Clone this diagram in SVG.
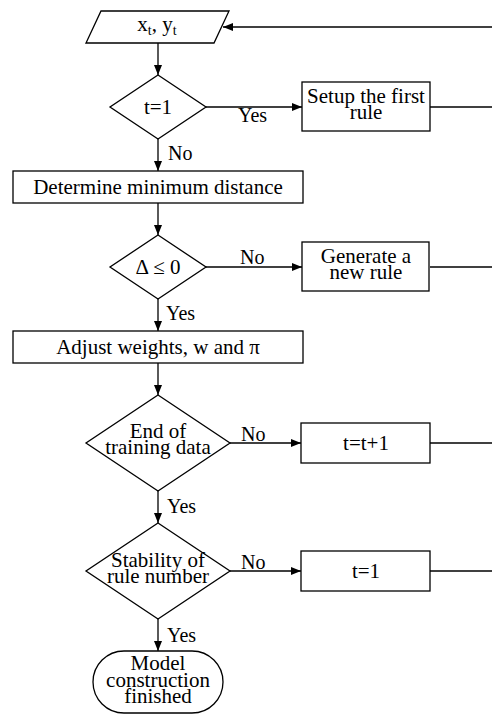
<svg xmlns="http://www.w3.org/2000/svg" width="492" height="715" viewBox="0 0 492 715">
<style>
.s{fill:#fff;stroke:#000;stroke-width:1.3}
.c{fill:none;stroke:#000;stroke-width:1.3}
.t{font-family:"Liberation Serif","Times New Roman",serif;font-size:21px;fill:#000;text-anchor:middle}
.l{font-family:"Liberation Serif","Times New Roman",serif;font-size:20px;fill:#000}
</style>
<defs>
<marker id="a" viewBox="0 0 10 10" refX="10" refY="5" markerWidth="10" markerHeight="10" markerUnits="userSpaceOnUse" orient="auto">
<path d="M0,1 L10,5 L0,9 Z" fill="#000"/>
</marker>
</defs>
<g id="connectors">
<line class="c" x1="492" y1="27" x2="223" y2="27" stroke-width="2.2" marker-end="url(#a)"/>
<line class="c" x1="158" y1="43" x2="158" y2="75" marker-end="url(#a)"/>
<line class="c" x1="206" y1="107" x2="302" y2="107" marker-end="url(#a)"/>
<line class="c" x1="430" y1="107" x2="492" y2="107"/>
<line class="c" x1="158" y1="139" x2="158" y2="171" marker-end="url(#a)"/>
<line class="c" x1="158" y1="203" x2="158" y2="235" marker-end="url(#a)"/>
<line class="c" x1="206" y1="267" x2="302" y2="267" marker-end="url(#a)"/>
<line class="c" x1="430" y1="267" x2="492" y2="267"/>
<line class="c" x1="158" y1="299" x2="158" y2="331" marker-end="url(#a)"/>
<line class="c" x1="158" y1="363" x2="158" y2="395" marker-end="url(#a)"/>
<line class="c" x1="230" y1="443" x2="301" y2="443" marker-end="url(#a)"/>
<line class="c" x1="430" y1="443" x2="492" y2="443"/>
<line class="c" x1="158" y1="491" x2="158" y2="523" marker-end="url(#a)"/>
<line class="c" x1="230" y1="571" x2="301" y2="571" marker-end="url(#a)"/>
<line class="c" x1="430" y1="571" x2="492" y2="571"/>
<line class="c" x1="158" y1="619" x2="158" y2="651" marker-end="url(#a)"/>
<text class="l" x="238" y="122">Yes</text>
<text class="l" x="168" y="160">No</text>
<text class="l" x="240" y="264">No</text>
<text class="l" x="166" y="320">Yes</text>
<text class="l" x="241" y="441">No</text>
<text class="l" x="167" y="513">Yes</text>
<text class="l" x="241" y="569">No</text>
<text class="l" x="167" y="642">Yes</text>
</g>
<g id="input">
<polygon class="s" points="101,11 229,11 214,43 86,43"/>
<text class="t" x="157" y="31">x<tspan font-size="14" dy="4">t</tspan><tspan dy="-4">, y</tspan><tspan font-size="14" dy="4">t</tspan></text>
</g>
<g id="d1">
<polygon class="s" points="158,75 206,107 158,139 110,107"/>
<text class="t" x="158" y="114">t=1</text>
</g>
<g id="setup">
<rect class="s" x="302" y="82" width="128" height="49"/>
<text class="t" x="366" y="103">Setup the first</text>
<text class="t" x="366" y="119">rule</text>
</g>
<g id="determine">
<rect class="s" x="13" y="171" width="290" height="32"/>
<text class="t" x="158" y="194">Determine minimum distance</text>
</g>
<g id="d2">
<polygon class="s" points="158,235 206,267 158,299 110,267"/>
<text class="t" x="158" y="274">Δ ≤ 0</text>
</g>
<g id="generate">
<rect class="s" x="302" y="242" width="127" height="49"/>
<text class="t" x="366" y="263">Generate a</text>
<text class="t" x="366" y="279">new rule</text>
</g>
<g id="adjust">
<rect class="s" x="13" y="331" width="290" height="32"/>
<text class="t" x="158" y="354">Adjust weights, w and π</text>
</g>
<g id="d3">
<polygon class="s" points="158,395 230,443 158,491 86,443"/>
<text class="t" x="158" y="438">End of</text>
<text class="t" x="158" y="454">training data</text>
</g>
<g id="inc">
<rect class="s" x="301" y="423" width="129" height="40"/>
<text class="t" x="366" y="450">t=t+1</text>
</g>
<g id="d4">
<polygon class="s" points="158,523 230,571 158,619 86,571"/>
<text class="t" x="158" y="567">Stability of</text>
<text class="t" x="158" y="583">rule number</text>
</g>
<g id="reset">
<rect class="s" x="301" y="551" width="129" height="40"/>
<text class="t" x="366" y="578">t=1</text>
</g>
<g id="end">
<rect class="s" x="93" y="651" width="130" height="62" rx="31" ry="31"/>
<text class="t" x="158" y="670">Model</text>
<text class="t" x="158" y="687">construction</text>
<text class="t" x="158" y="703">finished</text>
</g>
</svg>
